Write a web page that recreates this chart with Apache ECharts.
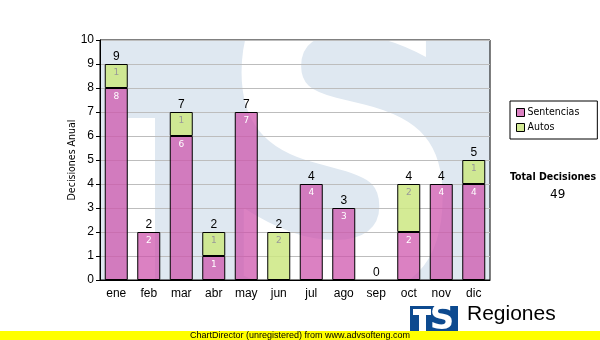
<!DOCTYPE html>
<html><head><meta charset="utf-8">
<script src="https://cdn.jsdelivr.net/npm/echarts@6/dist/echarts.min.js"></script>
<style>html,body{margin:0;padding:0;background:#fff}#c{width:600px;height:340px}</style>
</head><body><div id="c"></div>
<script>
const categories = ['ene','feb','mar','abr','may','jun','jul','ago','sep','oct','nov','dic'];
const sentencias = [8,2,6,1,7,0,4,3,0,2,4,4];
const autos      = [1,0,1,1,0,2,0,0,0,2,0,1];
const yTicks = [0,1,2,3,4,5,6,7,8,9,10];
const yTitle = 'Decisiones Anual';
const totalLabel = 'Total Decisiones';

const totals = categories.map((c,i)=>sentencias[i]+autos[i]);
const grand = totals.reduce((a,b)=>a+b,0);
const toBar = arr => arr.map(v => v === 0 ? '-' : v);

const chart = echarts.init(document.getElementById('c'), null, {renderer:'canvas'});
const G = {x:100, y:40, w:390, h:240};
const baseFont = '"DejaVu Sans Condensed", "DejaVu Sans"';
const tickFont = 'Liberation Sans';

chart.setOption({
  animation:false,
  grid:{left:G.x, top:G.y, width:G.w, height:G.h, show:true, borderColor:'#000', borderWidth:1, backgroundColor:'transparent'},
  legend:{
    data:['Sentencias','Autos'], orient:'vertical', left:510, top:101,
    itemWidth:8, itemHeight:8, itemGap:4, padding:[6,18,6,6],
    borderColor:'#000', borderWidth:1,
    textStyle:{fontFamily:baseFont, fontSize:10.5, color:'#000', padding:[0,0,0,-2]},
    icon:'rect', itemStyle:{borderColor:'#000', borderWidth:1}
  },
  xAxis:{type:'category', data:categories,
    axisLine:{lineStyle:{color:'#000'}},
    axisTick:{alignWithLabel:true, length:4, lineStyle:{color:'#000'}},
    axisLabel:{fontFamily:tickFont, fontSize:12, color:'#000', margin:8}
  },
  yAxis:{type:'value', min:yTicks[0], max:yTicks[yTicks.length-1], interval:1,
    axisLine:{show:true, lineStyle:{color:'#000'}},
    axisTick:{show:true, length:4, lineStyle:{color:'#000'}},
    axisLabel:{fontFamily:tickFont, fontSize:12, color:'#000', margin:6},
    splitLine:{lineStyle:{color:'#bdbdbd', width:1}}
  },
  series:[
    {name:'Sentencias', type:'bar', stack:'a', data:toBar(sentencias), barWidth:23,
      itemStyle:{color:'rgba(205,80,170,0.72)', borderColor:'#000', borderWidth:1},
      label:{show:true, position:'insideTop', distance:4, fontSize:9, fontFamily:'DejaVu Sans', color:'#fff'}},
    {name:'Autos', type:'bar', stack:'a', data:toBar(autos), barWidth:23,
      itemStyle:{color:'rgba(205,232,130,0.85)', borderColor:'#000', borderWidth:1},
      label:{show:true, position:'insideTop', distance:4, fontSize:9, fontFamily:'DejaVu Sans', color:'#999'}},
    {name:'total', type:'bar', stack:'a', data:totals.map(()=>0), barWidth:23,
      itemStyle:{color:'transparent', borderWidth:0},
      label:{show:true, position:'top', distance:1, fontSize:12, fontFamily:tickFont, color:'#000',
        formatter:p=>String(totals[p.dataIndex])}}
  ],
  graphic:[
    {type:'rect', z:-10, shape:{x:G.x, y:G.y, width:G.w, height:G.h}, style:{fill:'#dfe8f1'}},
    {type:'rect', z:-9, shape:{x:128, y:118, width:27, height:162}, style:{fill:'#fff'}},
    {type:'text', z:-9, x:317, y:206, style:{text:'S', font:'bold 380px "DejaVu Sans"', fill:'#fff', align:'center', verticalAlign:'middle'}, scaleX:0.92, scaleY:1.12, originX:317, originY:206},
    {type:'rect', z:-8, shape:{x:0, y:0, width:600, height:G.y}, style:{fill:'#fff'}},
    {type:'rect', z:-8, shape:{x:0, y:G.y+G.h, width:600, height:60}, style:{fill:'#fff'}},
    {type:'rect', z:-8, shape:{x:G.x+G.w, y:0, width:200, height:340}, style:{fill:'#fff'}},
    {type:'text', x:72, y:160, rotation:Math.PI/2, style:{text:yTitle, font:'10.5px "DejaVu Sans Condensed", "DejaVu Sans"', fill:'#000', align:'center', verticalAlign:'middle'}},
    {type:'text', left:510, top:172, style:{text:totalLabel, font:'bold 10.5px "DejaVu Sans Condensed", "DejaVu Sans"', fill:'#000'}},
    {type:'text', x:550, top:189, style:{text:String(grand), font:'12px "DejaVu Sans"', fill:'#000', align:'center'}},
    {type:'rect', shape:{x:410, y:306, width:48, height:25}, style:{fill:'#0d4a8f'}},
    {type:'rect', shape:{x:413, y:309, width:18, height:6}, style:{fill:'#fff'}},
    {type:'rect', shape:{x:419, y:309, width:7, height:22}, style:{fill:'#fff'}},
    {type:'text', x:442, y:320, style:{text:'S', font:'bold 34px "DejaVu Sans"', fill:'#fff', align:'center', verticalAlign:'middle'}},
    {type:'text', x:467, y:314, style:{text:'Regiones', font:'21px "Liberation Sans"', fill:'#000', verticalAlign:'middle'}},
    {type:'rect', shape:{x:0, y:331, width:600, height:9}, style:{fill:'#ffff00'}},
    {type:'text', x:300, y:336, style:{text:'ChartDirector (unregistered) from www.advsofteng.com', font:'9px "Liberation Sans"', fill:'#000', align:'center', verticalAlign:'middle'}}
  ]
});
</script></body></html>
